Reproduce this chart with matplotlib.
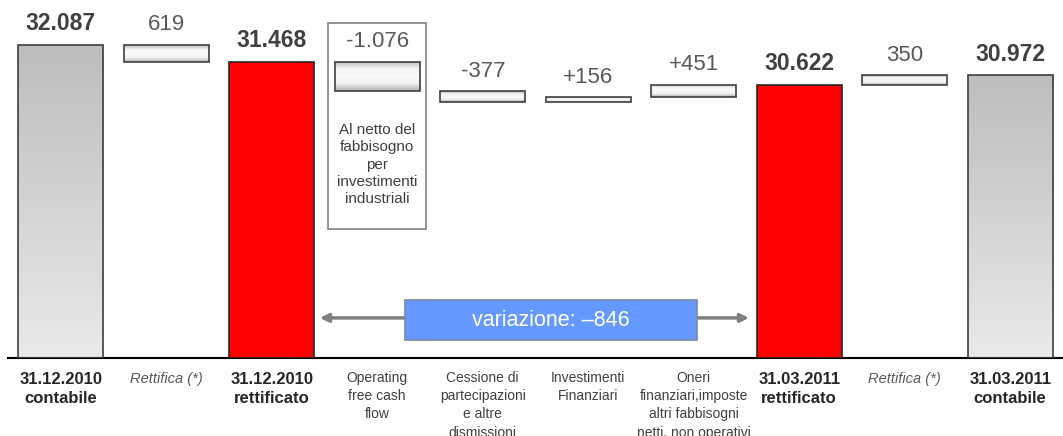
import numpy as np
import matplotlib
matplotlib.use('Agg')
import matplotlib.pyplot as plt
from matplotlib.patches import Rectangle
from matplotlib.colors import LinearSegmentedColormap
import matplotlib.transforms as mtransforms

plt.rcParams['font.family'] = ['Liberation Sans', 'DejaVu Sans']

# dati del grafico (milioni di euro)
categorie = ['31.12.2010\ncontabile', 'Rettifica (*)', '31.12.2010\nrettificato',
             'Operating\nfree cash\nflow', 'Cessione di\npartecipazioni\ne altre\ndismissioni',
             'Investimenti\nFinanziari', 'Oneri\nfinanziari,imposte\naltri fabbisogni\nnetti, non operativi',
             '31.03.2011\nrettificato', 'Rettifica (*)', '31.03.2011\ncontabile']
valori = [32087, -619, 31468, -1076, -377, 156, 451, 30622, 350, 30972]
tipi = ['totale', 'delta', 'totale', 'delta', 'delta', 'delta', 'delta', 'totale', 'delta', 'totale']
etichette = ['32.087', '619', '31.468', '-1.076', '-377', '+156', '+451', '30.622', '350', '30.972']
rossi = [2, 7]
variazione = '–846'

fig = plt.figure(figsize=(10.63, 4.36), dpi=100)
ax = fig.add_axes([8 / 1063, 78 / 436, 1055 / 1063, 358 / 436])
ax.set_xlim(-0.5, 9.5)
ax.set_ylim(20631, 33734)
for s in ['top', 'left', 'right']:
    ax.spines[s].set_visible(False)
ax.spines['bottom'].set_linewidth(1.5)
ax.set_xticks([])
ax.set_yticks([])

cm_tot = LinearSegmentedColormap.from_list('tot', ['#bdbdbd', '#e9e9e9'])
cm_delta = LinearSegmentedColormap.from_list('delta', ['#b8b8b8', '#f4f4f4', '#fafafa', '#f0f0f0', '#b0b0b0'])

larg = 0.81
livello = None
for i, (v, t) in enumerate(zip(valori, tipi)):
    if t == 'totale':
        basso, alto = ax.get_ylim()[0], v
        livello = v
        cm = cm_tot
    else:
        # le rettifiche collegano il dato contabile a quello rettificato
        if i == 1:
            basso, alto = valori[2], valori[0]
        elif i == 8:
            basso, alto = valori[7], valori[9]
        else:
            nuovo = livello + v
            basso, alto = min(livello, nuovo), max(livello, nuovo)
            livello = nuovo
        cm = cm_delta
    if i in rossi:
        ax.bar(i, alto - basso, bottom=basso, width=larg, color='#ff0000',
               edgecolor='#262626', linewidth=1.2, zorder=3)
    else:
        b = ax.bar(i, alto - basso, bottom=basso, width=larg, color='none',
                   edgecolor='#404040', linewidth=1.2, zorder=3)[0]
        grad = np.linspace(0, 1, 100).reshape(-1, 1)
        im = ax.imshow(grad, cmap=cm, aspect='auto', origin='upper',
                       extent=[i - larg / 2, i + larg / 2, basso, alto], zorder=2)
        im.set_clip_path(b)
    if t == 'totale':
        ax.annotate(etichette[i], (i, alto), xytext=(0, 7), textcoords='offset points',
                    ha='center', va='bottom', fontsize=16.5, fontweight='bold', color='#404040')
    else:
        ax.annotate(etichette[i], (i, alto), xytext=(0, 7), textcoords='offset points',
                    ha='center', va='bottom', fontsize=16, color='#595959')

ax.set_xlim(-0.5, 9.5)
ax.set_ylim(20631, 33734)

# etichette delle categorie
for i, c in enumerate(categorie):
    if tipi[i] == 'totale':
        ax.text(i, -0.04, c, transform=ax.get_xaxis_transform(), ha='center', va='top',
                fontsize=12, fontweight='bold', color='#262626', linespacing=1.3)
    elif c.startswith('Rettifica'):
        ax.text(i, -0.04, c, transform=ax.get_xaxis_transform(), ha='center', va='top',
                fontsize=10.5, style='italic', color='#595959')
    else:
        ax.text(i, -0.035, c, transform=ax.get_xaxis_transform(), ha='center', va='top',
                fontsize=10, color='#404040', linespacing=1.4)

trans = mtransforms.blended_transform_factory(ax.transData, ax.transAxes)

# riquadro nota operating free cash flow
ax.add_patch(Rectangle((2.53, 0.36), 0.93, 0.576, transform=trans, fill=False,
                       edgecolor='#808080', linewidth=1.2, zorder=1))
ax.text(3, 0.54, 'Al netto del\nfabbisogno\nper\ninvestimenti\nindustriali', transform=trans,
        ha='center', va='center', fontsize=11, color='#404040', linespacing=1.3)

# frecce e box variazione
ax.annotate('', xy=(2.43, 0.112), xytext=(3.3, 0.112), xycoords=trans, textcoords=trans,
            arrowprops=dict(arrowstyle='-|>', color='#808080', lw=2.5, mutation_scale=12))
ax.annotate('', xy=(6.55, 0.112), xytext=(6.0, 0.112), xycoords=trans, textcoords=trans,
            arrowprops=dict(arrowstyle='-|>', color='#808080', lw=2.5, mutation_scale=12))
ax.add_patch(Rectangle((3.26, 0.05), 2.77, 0.112, transform=trans, facecolor='#6699ff',
                       edgecolor='#7a8aa6', linewidth=1.2, zorder=4))
ax.text(4.645, 0.106, 'variazione: ' + variazione, transform=trans, ha='center', va='center',
        fontsize=15.5, color='white', zorder=5)

fig.savefig('out.png', dpi=100)
